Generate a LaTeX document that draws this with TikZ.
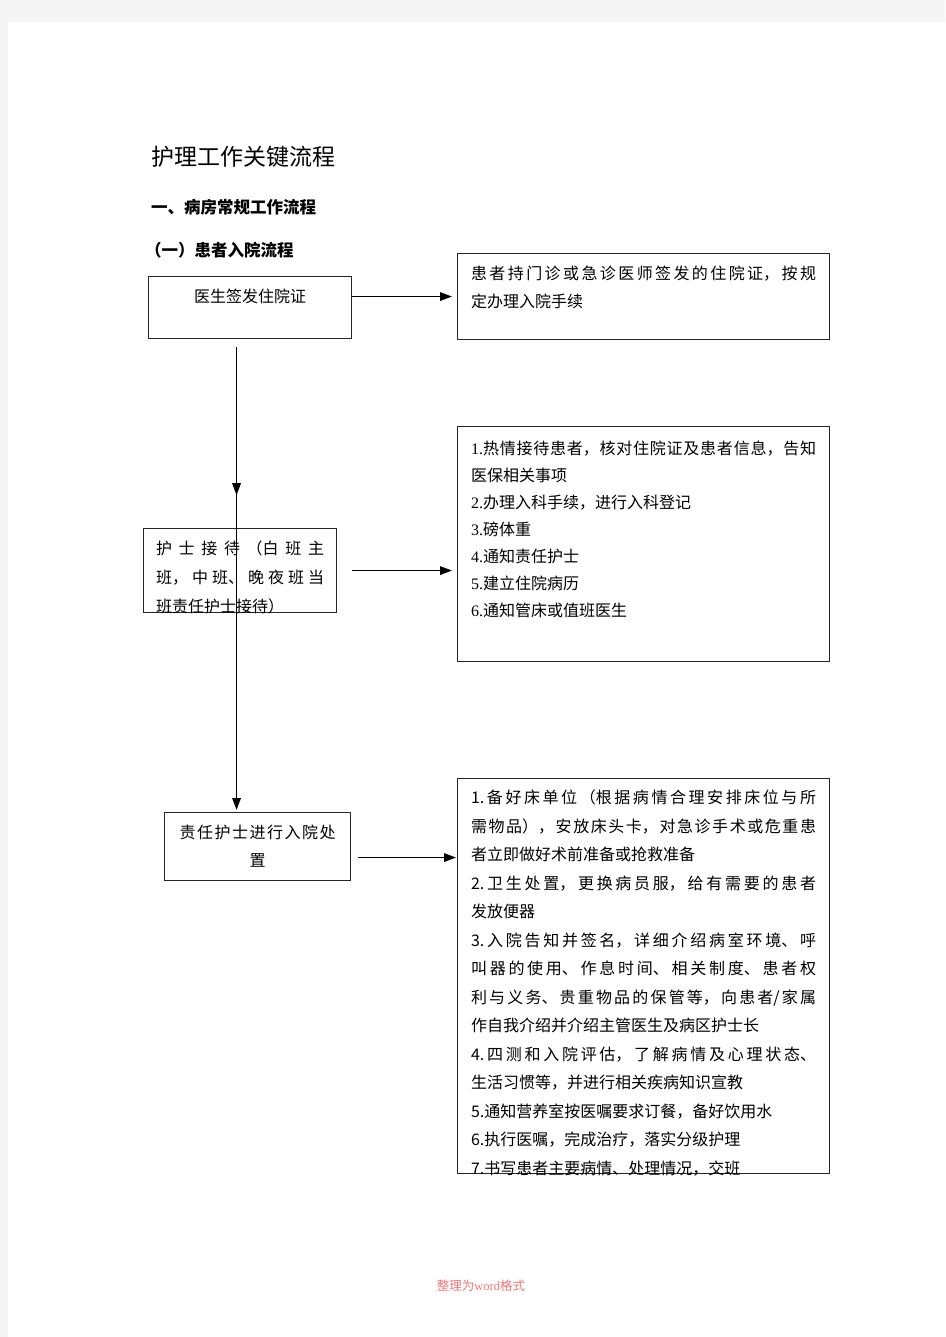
\documentclass[tikz,border=0pt]{standalone}
\usepackage{fontspec}
\setmainfont{Noto Sans CJK SC}
\newfontfamily\numfont{Liberation Serif}
\usetikzlibrary{arrows.meta,decorations.markings}
\XeTeXlinebreaklocale "zh"
\XeTeXlinebreakskip=0pt plus 6pt
\tolerance=10000
\hbadness=10000
\definecolor{footred}{RGB}{240,118,118}
\tikzset{
  flowbox/.style={draw=black!85, line width=1.1pt, anchor=north west, inner ysep=12pt, text height=14pt, font=\fontsize{16}{28}\selectfont},
  flowarrow/.style={-{Triangle[length=12pt,width=8.5pt]}, line width=1.6pt},
  heading/.style={anchor=west, inner sep=0pt},
}
\begin{document}
\begin{tikzpicture}[x=1pt, y=-1pt]
  \fill[black!4] (0,0) rectangle (945,1337);
  \fill[white] (8,22) rectangle (945,1337);
  \useasboundingbox (0,0) rectangle (945,1337);

  \node[heading, font=\fontsize{23}{23}\selectfont] (title) at (151,157) {护理工作关键流程};
  \node[heading, font=\fontsize{16.5}{16.5}\selectfont\bfseries] (sect) at (151,207) {一、病房常规工作流程};
  \node[heading, font=\fontsize{16.5}{16.5}\selectfont\bfseries] (subsect) at (145,250) {（一）患者入院流程};

  % left column
  \node[flowbox, text width=179pt, inner xsep=12pt, text depth=24pt, align=center] (docsign) at (148,276) {\mbox{医生签发住院证}};
  \node[flowbox, text width=168pt, inner xsep=12.5pt, text depth=46pt, align=justify, font=\fontsize{16}{29}\selectfont] (recept) at (143,528) {护士接待（白班主\linebreak 班，中班、晚夜班当\linebreak 班责任护士接待）};
  \node[flowbox, text width=156pt, inner xsep=15pt, text depth=30pt, align=justify] (admit) at (164,812) {责任护士进行入院处\linebreak\makebox[\linewidth]{置}};

  % right column
  \node[flowbox, text width=345pt, inner xsep=13.5pt, text depth=48pt, align=justify] (permit) at (457,253) {患者持门诊或急诊医师签发的住院证，按规\linebreak 定办理入院手续};
  \node[flowbox, text width=345pt, inner xsep=13.5pt, text height=16pt, text depth=195pt, align=justify, font=\fontsize{16}{27}\selectfont] (receptlist) at (457,426) {%
    {\numfont 1.}热情接待患者，核对住院证及患者信息，告知\linebreak 医保相关事项\par
    {\numfont 2.}办理入科手续，进行入科登记\par
    {\numfont 3.}磅体重\par
    {\numfont 4.}通知责任护士\par
    {\numfont 5.}建立住院病历\par
    {\numfont 6.}通知管床或值班医生};
  \node[flowbox, text width=345pt, inner xsep=13.5pt, text height=13pt, text depth=358pt, align=justify, font=\fontsize{16}{28.5}\selectfont] (admitlist) at (457,778) {%
    1.备好床单位（根据病情合理安排床位与所\linebreak 需物品），安放床头卡，对急诊手术或危重患\linebreak 者立即做好术前准备或抢救准备\par
    2.卫生处置，更换病员服，给有需要的患者\linebreak 发放便器\par
    3.入院告知并签名，详细介绍病室环境、呼\linebreak 叫器的使用、作息时间、相关制度、患者权\linebreak 利与义务、贵重物品的保管等，向患者/家属\linebreak 作自我介绍并介绍主管医生及病区护士长\par
    4.四测和入院评估，了解病情及心理状态、\linebreak 生活习惯等，并进行相关疾病知识宣教\par
    5.通知营养室按医嘱要求订餐，备好饮用水\par
    6.执行医嘱，完成治疗，落实分级护理\par
    7.书写患者主要病情、处理情况，交班};

  % connectors
  \draw[flowarrow] (docsign.east |- permit.west) -- ([xshift=-5pt]permit.west);
  \coordinate (trunk) at ([xshift=-13.5pt,yshift=-8pt]docsign.south);
  \draw[flowarrow, postaction={decorate}, decoration={markings, mark=at position 0.32 with {\arrow{Triangle[length=12pt,width=8.5pt]}}}] (trunk) -- ([yshift=2pt]trunk |- admit.north);
  \draw[flowarrow] ([xshift=15pt]recept.east) -- ([xshift=-5pt]recept.east -| receptlist.west);
  \draw[flowarrow] ([xshift=7pt,yshift=-11pt]admit.east) -- ([xshift=-1pt,yshift=-11pt]admit.east -| admitlist.west);

  \node[inner sep=0pt, text=footred, font=\fontsize{12.5}{12.5}\selectfont] (footer) at (481,1286) {整理为{\numfont word}格式};
\end{tikzpicture}
\end{document}
